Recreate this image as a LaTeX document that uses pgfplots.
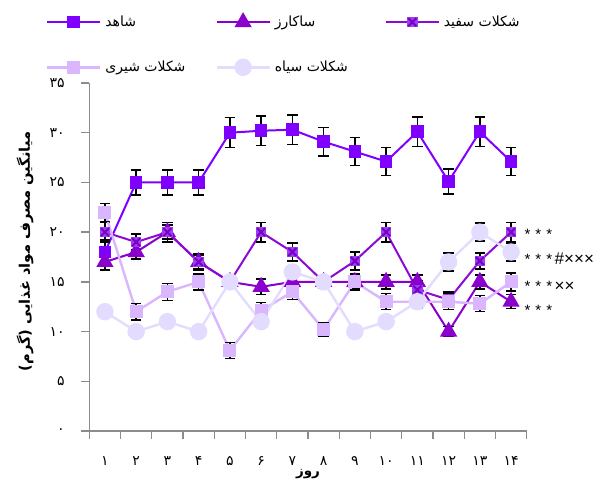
\documentclass[border=0pt]{standalone}
\usepackage{fontspec}
\usepackage{pgfplots}
\usepackage{pgfplotstable}
\pgfplotsset{compat=1.18}
\TeXXeTstate=1
\newfontfamily\fa[Script=Arabic]{DejaVu Sans}
\newfontfamily\lat{Liberation Sans}
\definecolor{cShahed}{HTML}{8000FF}
\definecolor{cSak}{HTML}{8A00CC}
\definecolor{cSefL}{HTML}{8C0AD4}
\definecolor{cSefF}{HTML}{9A40EE}
\definecolor{cSefX}{HTML}{7A00C8}
\definecolor{cShiri}{HTML}{D9B6FE}
\definecolor{cSiah}{HTML}{E3DCFF}
\definecolor{axgray}{HTML}{8C8C8C}
\pgfdeclareplotmark{xsq}{%
  \pgfpathrectangle{\pgfqpoint{-\pgfplotmarksize}{-\pgfplotmarksize}}{\pgfqpoint{2\pgfplotmarksize}{2\pgfplotmarksize}}%
  \pgfusepathqfill
  \pgfsetlinewidth{2pt}%
  \pgfsetstrokecolor{cSefX}%
  \pgfpathmoveto{\pgfqpoint{-0.75\pgfplotmarksize}{-0.75\pgfplotmarksize}}%
  \pgfpathlineto{\pgfqpoint{0.75\pgfplotmarksize}{0.75\pgfplotmarksize}}%
  \pgfpathmoveto{\pgfqpoint{-0.75\pgfplotmarksize}{0.75\pgfplotmarksize}}%
  \pgfpathlineto{\pgfqpoint{0.75\pgfplotmarksize}{-0.75\pgfplotmarksize}}%
  \pgfusepathqstroke
}
\pgfplotstableread{
day shahed eshahed sak esak sef esef shiri eshiri siah esiah
1  18   1.2  17   0.8 20   1.0 22   0.9  12 0.3
2  25   1.25 18   0.7 19   0.8 12   0.85 10 0.3
3  25   1.25 20   0.7 20   1.0 14   0.85 11 0.3
4  25   1.25 17   0.7 17   0.8 15   0.8  10 0.3
5  30   1.5  15   0.6 15   0.6 8.1  0.8  15 0.3
6  30.2 1.5  14.5 0.8 20   1.0 12.1 0.8  11 0.3
7  30.3 1.5  15   0.7 18   0.9 14   0.8  16 0.3
8  29.1 1.45 15   0.6 15   0.6 10.2 0.7  15 0.3
9  28.1 1.4  15   0.6 17.1 0.9 15   0.8  10 0.3
10 27.1 1.4  15   0.7 20   1.0 13   0.8  11 0.3
11 30.1 1.5  15   0.7 14.2 0.9 13   0.7  13 0.3
12 25.1 1.25 10   0.5 13.2 0.8 13   0.8  17 0.9
13 30.1 1.5  15   0.7 17.1 0.8 12.8 0.8  20 0.9
14 27.1 1.4  13   0.7 20   1.0 15   0.9  18 0.9
}\data
\newcommand\st{\makebox[10.8pt]{*}}
\newcommand\tm{\makebox[10pt]{\fontsize{17}{17}\selectfont ×}}
\newcommand\legtxt[1]{\makebox[110pt][l]{\hspace{2pt}\beginR #1\endR}}
\begin{document}
\begin{tikzpicture}
\path[use as bounding box] (0,0) rectangle (602pt,482pt);
\begin{axis}[
  at={(89.3pt,51pt)}, anchor=south west,
  scale only axis, width=437.4pt, height=348pt,
  xmin=0.5, xmax=14.5, ymin=0, ymax=35,
  clip=false,
  axis x line*=bottom, axis y line*=left,
  axis line style={axgray, line width=1.3pt},
  xtick={0.5,1.5,...,14.5}, x tick label as interval,
  xticklabels={۱,۲,۳,۴,۵,۶,۷,۸,۹,۱۰,۱۱,۱۲,۱۳,۱۴},
  ytick={0,5,...,35},
  yticklabels={۰,۵,۱۰,۱۵,۲۰,۲۵,۳۰,۳۵},
  tick align=outside, major tick length=8pt,
  tick style={axgray, line width=1.3pt},
  ticklabel style={font=\fa\fontsize{14}{16}\selectfont},
  xticklabel style={yshift=-14pt},
  yticklabel style={xshift=-13pt},
  xlabel={\fa\bfseries\beginR روز\endR},
  xlabel style={at={(axis description cs:0.5,-0.124)}, anchor=center, font=\fontsize{13.5}{15}\selectfont},
  ylabel={\fa\bfseries\beginR میانگین مصرف مواد غذایی (گرم)\endR},
  ylabel style={at={(axis description cs:-0.147,0.516)}, anchor=center, rotate=0, font=\fontsize{14.6}{16}\selectfont},
  error bars/error bar style={black, line width=1.4pt},
  error bars/error mark options={rotate=90, black, line width=1.4pt, mark size=5.3pt},
  legend image code/.code={\draw[#1, mark repeat=2, mark phase=2] plot coordinates {(0pt,0pt) (26.5pt,0pt) (53pt,0pt)};},
  legend style={at={(axis description cs:-0.099,1.198)}, anchor=north west, draw=none, fill=none,
    inner sep=0pt, outer sep=0pt, legend columns=3, row sep=29pt,
    font=\fa\fontsize{14}{16}\selectfont, cells={anchor=west}},
]
\addplot[cShahed, line width=2pt, mark=square*, mark size=5.3pt, mark options={solid, fill=cShahed},
  error bars/.cd, y dir=both, y explicit] table[x=day, y=shahed, y error=eshahed]{\data};
\addlegendentry{\legtxt{شاهد}}
\addplot[cSak, line width=2pt, mark=triangle*, mark size=8pt, mark options={solid, fill=cSak},
  error bars/.cd, y dir=both, y explicit] table[x=day, y=sak, y error=esak]{\data};
\addlegendentry{\legtxt{ساکارز}}
\addplot[cSefL, line width=2pt, mark=xsq, mark size=5.3pt, mark options={solid, fill=cSefF},
  error bars/.cd, y dir=both, y explicit] table[x=day, y=sef, y error=esef]{\data};
\addlegendentry{\hspace{2pt}\beginR شکلات سفید\endR}
\addplot[cShiri, line width=2.4pt, mark=square*, mark size=5.3pt, mark options={solid, fill=cShiri},
  error bars/.cd, y dir=both, y explicit] table[x=day, y=shiri, y error=eshiri]{\data};
\addlegendentry{\legtxt{شکلات شیری}}
\addplot[cSiah, line width=2.4pt, mark=*, mark size=7.5pt, mark options={solid, fill=cSiah},
  error bars/.cd, y dir=both, y explicit] table[x=day, y=siah, y error=esiah]{\data};
\addlegendentry{\legtxt{شکلات سیاه}}
\node[anchor=base west, inner sep=0pt, font=\lat\fontsize{15}{15}\selectfont] at (axis cs:14.35,19.29) {\st\st\st};
\node[anchor=base west, inner sep=0pt, font=\lat\fontsize{15}{15}\selectfont] at (axis cs:14.35,16.70) {\st\st\st{\fontsize{17}{17}\selectfont\#}\tm\tm\tm};
\node[anchor=base west, inner sep=0pt, font=\lat\fontsize{15}{15}\selectfont] at (axis cs:14.35,13.98) {\st\st\st\tm\tm};
\node[anchor=base west, inner sep=0pt, font=\lat\fontsize{15}{15}\selectfont] at (axis cs:14.35,11.64) {\st\st\st};
\end{axis}
\end{tikzpicture}
\end{document}
